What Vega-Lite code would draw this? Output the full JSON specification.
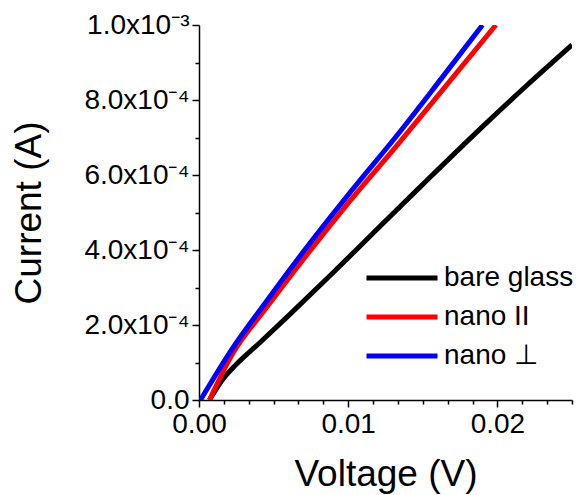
{
  "$schema": "https://vega.github.io/schema/vega-lite/v6.json",
  "width": 373,
  "height": 375,
  "autosize": "none",
  "padding": {"left": 199, "top": 25, "right": 13, "bottom": 95},
  "background": "white",
  "config": {
    "view": {"stroke": null},
    "font": "Liberation Sans",
    "axis": {
      "grid": false,
      "domainColor": "#000000",
      "domainWidth": 1.5,
      "tickColor": "#000000",
      "tickWidth": 1.5,
      "labelColor": "#000000",
      "labelFont": "Liberation Sans",
      "labelFontSize": 28,
      "titleFont": "Liberation Sans",
      "titleFontSize": 37,
      "titleFontWeight": "normal",
      "titleColor": "#000000"
    }
  },
  "data": {
    "values": [
      {"series": "bare glass", "V": 0.0007, "I": 0.0},
      {"series": "bare glass", "V": 0.0015, "I": 0.000050},
      {"series": "bare glass", "V": 0.0025, "I": 0.000095},
      {"series": "bare glass", "V": 0.0040, "I": 0.000150},
      {"series": "bare glass", "V": 0.0060, "I": 0.000225},
      {"series": "bare glass", "V": 0.0090, "I": 0.000340},
      {"series": "bare glass", "V": 0.0120, "I": 0.000458},
      {"series": "bare glass", "V": 0.0150, "I": 0.000575},
      {"series": "bare glass", "V": 0.0189, "I": 0.000725},
      {"series": "bare glass", "V": 0.0220, "I": 0.000840},
      {"series": "bare glass", "V": 0.0250, "I": 0.000947},
      {"series": "nano II", "V": 0.0007, "I": 0.0},
      {"series": "nano II", "V": 0.0022, "I": 0.000120},
      {"series": "nano II", "V": 0.0045, "I": 0.000245},
      {"series": "nano II", "V": 0.0067, "I": 0.000360},
      {"series": "nano II", "V": 0.0100, "I": 0.000525},
      {"series": "nano II", "V": 0.0134, "I": 0.000685},
      {"series": "nano II", "V": 0.0167, "I": 0.000845},
      {"series": "nano II", "V": 0.0199, "I": 0.001},
      {"series": "nano ⊥", "V": 0.0001, "I": 0.0},
      {"series": "nano ⊥", "V": 0.0022, "I": 0.000135},
      {"series": "nano ⊥", "V": 0.0045, "I": 0.000262},
      {"series": "nano ⊥", "V": 0.0067, "I": 0.000380},
      {"series": "nano ⊥", "V": 0.0100, "I": 0.000547},
      {"series": "nano ⊥", "V": 0.0134, "I": 0.000712},
      {"series": "nano ⊥", "V": 0.0162, "I": 0.000855},
      {"series": "nano ⊥", "V": 0.0190, "I": 0.001}
    ]
  },
  "mark": {"type": "line", "strokeWidth": 5, "clip": true, "interpolate": "monotone"},
  "encoding": {
    "x": {
      "field": "V",
      "type": "quantitative",
      "scale": {"domain": [0, 0.025], "nice": false, "zero": false},
      "axis": {
        "title": "Voltage (V)",
        "values": [0, 0.0016667, 0.0033333, 0.005, 0.0066667, 0.0083333, 0.01, 0.0116667, 0.0133333, 0.015, 0.0166667, 0.0183333, 0.02, 0.0216667, 0.0233333, 0.025],
        "labelExpr": "round(datum.value * 600) % 6 == 0 ? format(datum.value, '.2f') : ''",
        "tickSize": {"condition": {"test": "round(datum.value * 600) % 6 == 0", "value": 7}, "value": 4},
        "labelPadding": 3,
        "labelFlush": false,
        "labelOverlap": false,
        "titlePadding": 18
      }
    },
    "y": {
      "field": "I",
      "type": "quantitative",
      "scale": {"domain": [0, 0.001], "nice": false},
      "axis": {
        "title": "Current (A)",
        "values": [0, 0.0001, 0.0002, 0.0003, 0.0004, 0.0005, 0.0006, 0.0007, 0.0008, 0.0009, 0.001],
        "labelExpr": "round(datum.value * 10000) % 2 != 0 ? '' : datum.value == 0 ? '0.0' : round(datum.value * 10000) == 10 ? '1.0x10⁻³' : format(datum.value * 10000, '.1f') + 'x10⁻⁴'",
        "tickSize": {"condition": {"test": "round(datum.value * 10000) % 2 == 0", "value": 7}, "value": 4},
        "labelPadding": 3,
        "labelFlush": false,
        "labelOverlap": false,
        "titlePadding": 35
      }
    },
    "color": {
      "field": "series",
      "type": "nominal",
      "scale": {"domain": ["bare glass", "nano II", "nano ⊥"], "range": ["#000000", "#ff0000", "#0000ff"]},
      "legend": {
        "title": null,
        "orient": "none",
        "legendX": 165,
        "legendY": 235,
        "symbolType": "stroke",
        "symbolSize": 5041,
        "symbolStrokeWidth": 5,
        "clipHeight": 36,
        "labelFont": "Liberation Sans",
        "labelFontSize": 28,
        "labelColor": "#000000",
        "labelOffset": 4,
        "rowPadding": 3
      }
    },
    "order": {"field": "series"}
  }
}
